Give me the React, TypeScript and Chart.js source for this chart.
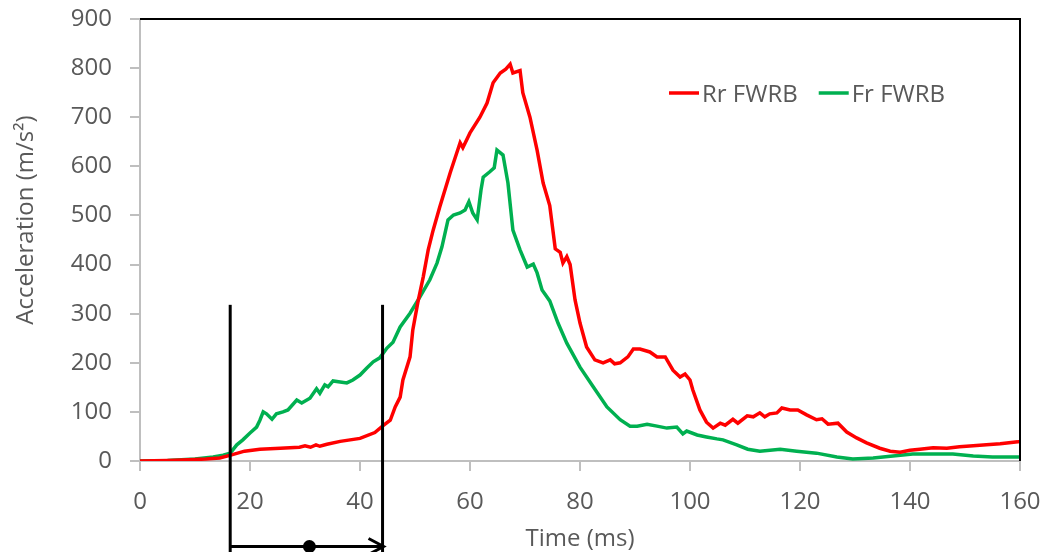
import { useEffect, useRef } from "react";
import { Chart, registerables } from "chart.js";

Chart.register(...registerables);

// ---- Data ----
const redTime = [0, 5, 10, 12, 14.5, 16.5, 19, 21.8, 25.5, 29, 30, 31, 32, 32.7, 34, 36.4, 40, 42.7, 44.2, 45.5, 46.4, 47.3, 47.8, 49.1, 49.6, 50.5, 51.5, 52.4, 53.3, 54.5, 56.4, 58.2, 58.7, 60, 61.8, 63.1, 64.2, 65.5, 66.5, 67.3, 67.8, 69.1, 69.6, 70.9, 72.2, 73.3, 74.5, 75.5, 76.4, 76.9, 77.6, 78.2, 79.1, 80, 81.2, 82.7, 84.2, 85.5, 86.3, 87.3, 88.7, 89.7, 90.9, 92.7, 94, 95.5, 96.9, 98.2, 99.1, 100, 100.5, 101.8, 103, 104.2, 105.5, 106.4, 107.8, 108.7, 110.4, 111.5, 112.7, 113.6, 114.5, 115.8, 116.7, 118.2, 119.6, 121.2, 123, 124, 125.1, 126.9, 128.5, 130.3, 132.1, 134.5, 136.4, 138.2, 140, 141.8, 144.2, 146.7, 149, 151.5, 153.9, 156.4, 159.6, 160];
const redAccel = [0, 1, 3, 4, 6, 12, 20, 24, 26, 28, 31, 28, 33, 30, 34, 40, 46, 58, 72, 83, 110, 130, 165, 212, 267, 322, 375, 430, 470, 517, 587, 648, 638, 668, 700, 729, 770, 790, 798, 808, 790, 795, 750, 700, 633, 566, 520, 432, 425, 403, 416, 400, 328, 281, 232, 206, 200, 206, 198, 200, 212, 228, 228, 222, 212, 212, 185, 171, 177, 165, 145, 104, 79, 67, 77, 73, 85, 77, 92, 90, 98, 90, 96, 98, 108, 104, 104, 94, 84, 86, 75, 77, 59, 47, 37, 26, 20, 18, 22, 24, 27, 26, 29, 31, 33, 35, 39, 40];

const greenTime = [0, 5, 10, 13.3, 15.1, 16.4, 17.6, 18.7, 20, 21.2, 21.8, 22.4, 23, 24, 24.8, 26, 26.9, 28.5, 29.4, 30.9, 32.1, 32.7, 33.6, 34.2, 35.1, 36.4, 37.6, 38.7, 40, 41.2, 42.4, 43.6, 44.9, 46, 47.3, 49.1, 50.9, 52.7, 54, 54.9, 56, 57, 58.2, 59.1, 59.8, 60.5, 61.3, 62, 62.4, 63.6, 64.4, 64.9, 66, 66.9, 67.8, 69.1, 70.4, 71.5, 72.2, 73.1, 74.5, 76, 77.6, 80, 82.4, 84.9, 87.3, 89.1, 90.4, 92.2, 94, 95.8, 97.6, 98.7, 99.4, 101.3, 103, 104.9, 106, 108.5, 110.5, 112.7, 116.4, 119.4, 123, 126.7, 129.6, 133.3, 136.9, 140.5, 144.2, 147.8, 151.5, 155, 160];
const greenAccel = [0, 1, 4, 8, 12, 16, 33, 43, 57, 69, 83, 100, 96, 85, 96, 100, 104, 124, 118, 128, 147, 138, 155, 151, 163, 161, 159, 165, 175, 189, 202, 210, 230, 242, 273, 301, 334, 369, 403, 436, 491, 501, 505, 511, 528, 505, 491, 552, 578, 589, 597, 633, 623, 566, 470, 430, 395, 401, 383, 348, 326, 281, 240, 191, 151, 110, 84, 71, 71, 75, 71, 67, 69, 55, 61, 53, 49, 45, 43, 33, 24, 20, 24, 20, 16, 8, 4, 6, 10, 14, 14, 14, 10, 8, 8];

const seriesLabels = ["Rr FWRB", "Fr FWRB"];
const seriesColors = ["#ff0000", "#00b050"];

const xAxisTitle = "Time (ms)";
const yAxisTitle = "Acceleration (m/s²)";
const xRange = [0, 160];
const yRange = [0, 900];
const xStep = 20;
const yStep = 100;

// annotation: two vertical markers, a horizontal arrow with a dot
const markerTimes = [16.4, 44.1];
const markerTopValue = 318;
const dotTime = 30.8;

const FONT = "'Open Sans', sans-serif";
const TEXT = "#595959";
const AXIS = "#bfbfbf";

const toPoints = (t: number[], v: number[]) => t.map((x, i) => ({ x, y: v[i] }));

const overlayPlugin = {
  id: "overlay",
  afterDatasetsDraw(chart: any) {
    const { ctx, chartArea: a, scales } = chart;
    const xs = scales.x;
    const ys = scales.y;
    ctx.save();
    // plot-area top/right border
    ctx.strokeStyle = "#000";
    ctx.lineWidth = 2;
    ctx.beginPath();
    ctx.moveTo(a.left, a.top);
    ctx.lineTo(a.right, a.top);
    ctx.lineTo(a.right, a.bottom);
    ctx.stroke();

    // vertical markers
    ctx.lineWidth = 3;
    const px = markerTimes.map((t) => xs.getPixelForValue(t));
    const yTop = ys.getPixelForValue(markerTopValue);
    px.forEach((p) => {
      ctx.beginPath();
      ctx.moveTo(p, yTop);
      ctx.lineTo(p, chart.height);
      ctx.stroke();
    });
    // arrow
    const ay = chart.height - 5.5;
    ctx.beginPath();
    ctx.moveTo(px[0], ay);
    ctx.lineTo(px[1], ay);
    ctx.stroke();
    ctx.beginPath();
    ctx.moveTo(px[1] - 14, ay - 8);
    ctx.lineTo(px[1] + 1, ay);
    ctx.lineTo(px[1] - 14, ay + 8);
    ctx.stroke();
    ctx.fillStyle = "#000";
    ctx.beginPath();
    ctx.arc(xs.getPixelForValue(dotTime), ay, 6.5, 0, Math.PI * 2);
    ctx.fill();
    ctx.restore();
  },
  afterDraw(chart: any) {
    const { ctx, chartArea: a } = chart;
    ctx.save();
    // y-axis title
    ctx.fillStyle = TEXT;
    ctx.font = `24px ${FONT}`;
    ctx.textAlign = "center";
    ctx.textBaseline = "middle";
    ctx.translate(26, (a.top + a.bottom) / 2 - 20);
    ctx.rotate(-Math.PI / 2);
    ctx.fillText(yAxisTitle, 0, 0);
    ctx.restore();

    // legend
    ctx.save();
    ctx.font = `24px ${FONT}`;
    ctx.textAlign = "left";
    ctx.textBaseline = "alphabetic";
    let lx = 669;
    const ly = 93;
    chart.data.datasets.forEach((ds: any) => {
      ctx.strokeStyle = ds.borderColor;
      ctx.lineWidth = 3.5;
      ctx.beginPath();
      ctx.moveTo(lx, ly);
      ctx.lineTo(lx + 30, ly);
      ctx.stroke();
      ctx.fillStyle = TEXT;
      ctx.fillText(ds.label, lx + 33, ly + 8.5);
      lx += 33 + ctx.measureText(ds.label).width + 21;
    });
    ctx.restore();
  },
};

export default function App() {
  const ref = useRef<HTMLCanvasElement | null>(null);
  useEffect(() => {
    document.body.style.margin = "0";
    if (!ref.current) return;
    const chart = new Chart(ref.current, {
      type: "line",
      data: {
        datasets: [
          {
            label: seriesLabels[0],
            data: toPoints(redTime, redAccel),
            borderColor: seriesColors[0],
            backgroundColor: seriesColors[0],
            borderWidth: 3.5,
            pointRadius: 0,
            tension: 0,
          },
          {
            label: seriesLabels[1],
            data: toPoints(greenTime, greenAccel),
            borderColor: seriesColors[1],
            backgroundColor: seriesColors[1],
            borderWidth: 3.5,
            pointRadius: 0,
            tension: 0,
          },
        ],
      },
      options: {
        responsive: false,
        animation: false,
        devicePixelRatio: 1,
        layout: { padding: { left: 0, right: 22, top: 19, bottom: 0 } },
        plugins: { legend: { display: false }, tooltip: { enabled: false } },
        scales: {
          x: {
            type: "linear",
            min: xRange[0],
            max: xRange[1],
            afterFit: (s: any) => {
              s.height = 91;
              s.paddingLeft = 0;
              s.paddingRight = 0;
            },
            ticks: {
              stepSize: xStep,
              color: TEXT,
              font: { family: FONT, size: 24 },
              padding: 17,
              maxRotation: 0,
            },
            grid: { drawOnChartArea: false, drawTicks: true, tickLength: 10, color: AXIS, lineWidth: 2 },
            border: { display: true, color: AXIS, width: 2 },
            title: {
              display: true,
              text: xAxisTitle,
              color: TEXT,
              font: { family: FONT, size: 24, lineHeight: 1 },
              padding: { top: 0, bottom: 1 },
            },
          },
          y: {
            min: yRange[0],
            max: yRange[1],
            afterFit: (s: any) => {
              s.width = 140;
              s.paddingTop = 0;
              s.paddingBottom = 0;
            },
            ticks: {
              stepSize: yStep,
              color: TEXT,
              font: { family: FONT, size: 24 },
              padding: 18,
            },
            grid: { drawOnChartArea: false, drawTicks: true, tickLength: 10, color: AXIS, lineWidth: 2 },
            border: { display: true, color: AXIS, width: 2 },
          },
        },
      },
      plugins: [overlayPlugin],
    });
    return () => chart.destroy();
  }, []);
  return (
    <div style={{ width: 1042, height: 552, background: "#fff" }}>
      <canvas ref={ref} width={1042} height={552} style={{ display: "block" }} />
    </div>
  );
}
